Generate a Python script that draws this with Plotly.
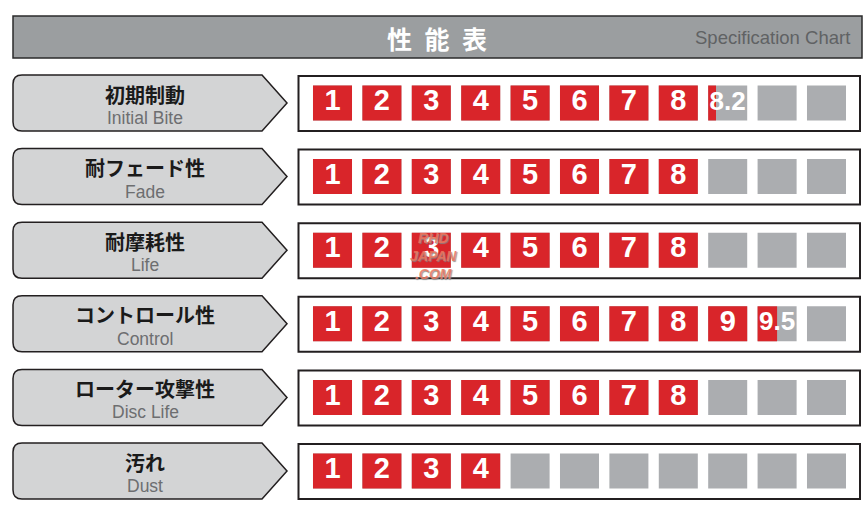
import plotly.graph_objects as go

# ---------------- data ----------------
rows_jp = ["初期制動", "耐フェード性", "耐摩耗性", "コントロール性", "ローター攻撃性", "汚れ"]
rows_en = ["Initial Bite", "Fade", "Life", "Control", "Disc Life", "Dust"]
values = [8.2, 8, 8, 9.5, 8, 4]
max_cells = 11
title_jp = "性\u2002能\u2002表"
title_en = "Specification Chart"

# ---------------- style / layout ----------------
W, H = 866, 514
RED = "#d9252a"
GRAY_CELL = "#abadb0"
LABEL_FILL = "#d3d4d5"
EDGE = "#231f20"
CELL_W = 0.79       # in cell-index units
CELL_H = 0.475      # in row units
NUM_FONT = "Liberation Sans, Arial, sans-serif"

# axis mapping: cell index -> pixel, row index -> pixel
X0_PX, X_STEP = 283.1, 49.4
Y0_PX, Y_STEP = 103 - 73.6, 73.6     # row 1 centre at 103px
x_range = [(0 - X0_PX) / X_STEP, (W - X0_PX) / X_STEP]
y_range = [(H - Y0_PX) / Y_STEP, (0 - Y0_PX) / Y_STEP]


def PX(x):
    return x / W


def PY(y):
    return 1 - y / H


fig = go.Figure()

# gray background cells, red fills
g_y, g_x, g_b = [], [], []
r_y, r_x, r_b = [], [], []
t_x, t_y, t_s, t_sz = [], [], [], []
for ri, v in enumerate(values, start=1):
    for c in range(1, max_cells + 1):
        left = c - CELL_W / 2
        g_y.append(ri); g_x.append(CELL_W); g_b.append(left)
        frac = max(0.0, min(1.0, v - (c - 1)))
        if frac > 0:
            r_y.append(ri); r_x.append(CELL_W * frac); r_b.append(left)
            t_x.append(c); t_y.append(ri)
            if frac >= 1:
                t_s.append(str(c)); t_sz.append(29)
            else:
                t_s.append(f"{v:g}"); t_sz.append(26)

fig.add_trace(go.Bar(orientation="h", y=g_y, x=g_x, base=g_b, width=CELL_H,
                     marker=dict(color=GRAY_CELL, line=dict(width=0)),
                     hoverinfo="skip", showlegend=False))
fig.add_trace(go.Bar(orientation="h", y=r_y, x=r_x, base=r_b, width=CELL_H,
                     marker=dict(color=RED, line=dict(width=0)),
                     hoverinfo="skip", showlegend=False))
fig.add_trace(go.Scatter(x=t_x, y=t_y, mode="text", text=t_s,
                         textfont=dict(family=NUM_FONT, size=t_sz, color="white", weight="bold"),
                         textposition="middle center",
                         hoverinfo="skip", showlegend=False))

shapes = []
annotations = []

# header bar
shapes.append(dict(type="rect", xref="paper", yref="paper",
                   x0=PX(13), x1=PX(862), y0=PY(58), y1=PY(16),
                   fillcolor="#9b9ea0", line=dict(color="#2b2b2b", width=1.5), layer="below"))
annotations.append(dict(xref="paper", yref="paper", x=PX(437), y=PY(38), text=title_jp,
                        showarrow=False, xanchor="center", yanchor="middle",
                        font=dict(family="Noto Sans CJK JP", size=25, color="white", weight="bold")))
annotations.append(dict(xref="paper", yref="paper", x=PX(852), y=PY(38), text=title_en,
                        showarrow=False, xanchor="right", yanchor="middle",
                        font=dict(family="Liberation Sans, Arial, sans-serif",
                                  size=18.5, color="#606264")))

for ri in range(1, len(values) + 1):
    cy = Y0_PX + Y_STEP * ri
    top, bot = cy - 28, cy + 28
    # label arrow box
    r = 9
    path = (f"M {PX(13 + r)},{PY(top)} L {PX(262)},{PY(top)} L {PX(287)},{PY(cy)} "
            f"L {PX(262)},{PY(bot)} L {PX(13 + r)},{PY(bot)} "
            f"Q {PX(13)},{PY(bot)} {PX(13)},{PY(bot - r)} L {PX(13)},{PY(top + r)} "
            f"Q {PX(13)},{PY(top)} {PX(13 + r)},{PY(top)} Z")
    shapes.append(dict(type="path", xref="paper", yref="paper", path=path,
                       fillcolor=LABEL_FILL, line=dict(color=EDGE, width=1.5), layer="below"))
    # value box
    shapes.append(dict(type="rect", xref="paper", yref="paper",
                       x0=PX(298.5), x1=PX(860), y0=PY(bot), y1=PY(top + 1),
                       fillcolor="white", line=dict(color=EDGE, width=2), layer="below"))
    annotations.append(dict(xref="paper", yref="paper", x=PX(145), y=PY(cy - 9),
                            text=rows_jp[ri - 1], showarrow=False,
                            xanchor="center", yanchor="middle",
                            font=dict(family="Noto Sans CJK JP", size=20, color="#1a1a1a", weight="bold")))
    annotations.append(dict(xref="paper", yref="paper", x=PX(145), y=PY(cy + 15),
                            text=rows_en[ri - 1], showarrow=False,
                            xanchor="center", yanchor="middle",
                            font=dict(family="Liberation Sans, Arial, sans-serif", size=17.5, color="#6d6e70")))

# watermark
annotations.append(dict(xref="paper", yref="paper", x=PX(433), y=PY(256),
                        text="<i><b>RHD<br>JAPAN<br>.COM</b></i>", showarrow=False,
                        xanchor="center", yanchor="middle", align="center",
                        font=dict(family="Liberation Sans, Arial, sans-serif", size=14,
                                  color="rgba(236,120,95,0.85)", shadow="1px 1px 1px #888")))

fig.update_layout(
    width=W, height=H,
    margin=dict(l=0, r=0, t=0, b=0),
    paper_bgcolor="white", plot_bgcolor="white",
    barmode="overlay",
    shapes=shapes, annotations=annotations,
    xaxis=dict(range=x_range, visible=False, fixedrange=True),
    yaxis=dict(range=y_range, visible=False, fixedrange=True),
    showlegend=False,
)

fig.write_html("out.html", config={"displayModeBar": False},
               post_script="document.body.style.margin='0';")
